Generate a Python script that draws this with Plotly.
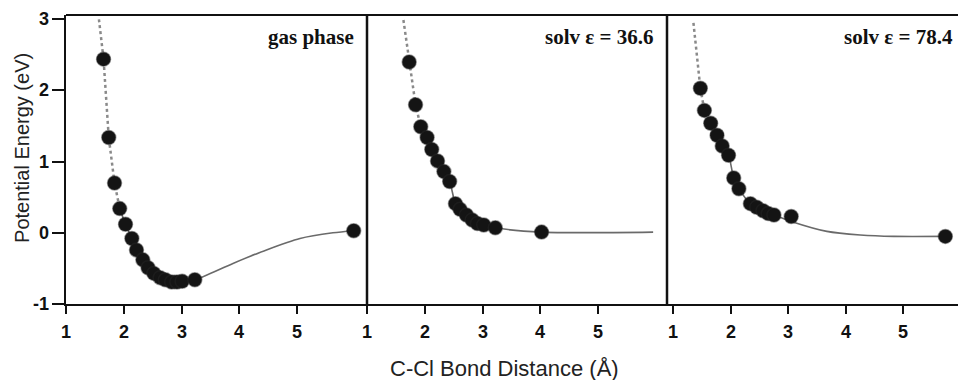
import plotly.graph_objects as go

# C-Cl bond scan: computed points (Å, eV)
gas_r = [1.65, 1.74, 1.84, 1.93, 2.03, 2.14, 2.22, 2.33, 2.42, 2.52, 2.63, 2.72, 2.83, 2.92, 3.01, 3.23, 5.98]
gas_e = [2.44, 1.34, 0.70, 0.34, 0.12, -0.08, -0.24, -0.38, -0.49, -0.57, -0.63, -0.66, -0.69, -0.69, -0.68, -0.66, 0.03]

s366_r = [1.73, 1.84, 1.93, 2.04, 2.12, 2.22, 2.33, 2.43, 2.53, 2.61, 2.72, 2.82, 2.91, 3.02, 3.22, 4.02]
s366_e = [2.40, 1.80, 1.49, 1.34, 1.17, 1.01, 0.86, 0.72, 0.41, 0.33, 0.25, 0.18, 0.13, 0.11, 0.07, 0.01]

s784_r = [1.47, 1.54, 1.65, 1.76, 1.85, 1.96, 2.05, 2.14, 2.34, 2.45, 2.56, 2.65, 2.75, 3.05, 5.73]
s784_e = [2.03, 1.72, 1.54, 1.37, 1.22, 1.09, 0.77, 0.62, 0.41, 0.36, 0.31, 0.27, 0.25, 0.23, -0.05]

# Guide curves: dotted repulsive wall and solid fitted curve
gas_wall_r = [1.57, 1.65, 1.74, 1.84, 1.93]
gas_wall_e = [3.00, 2.44, 1.34, 0.70, 0.34]
gas_fit_r = [1.93, 2.03, 2.14, 2.22, 2.33, 2.42, 2.52, 2.63, 2.72, 2.83, 2.92, 3.01, 3.23, 3.89, 4.47, 5.05, 5.62, 5.98]
gas_fit_e = [0.34, 0.12, -0.08, -0.24, -0.38, -0.49, -0.57, -0.63, -0.66, -0.69, -0.69, -0.68, -0.66, -0.43, -0.24, -0.08, 0.00, 0.03]

s366_wall_r = [1.63, 1.73, 1.84, 1.93]
s366_wall_e = [2.99, 2.40, 1.80, 1.49]
s366_fit_r = [1.93, 2.04, 2.12, 2.22, 2.33, 2.43, 2.53, 2.61, 2.72, 2.82, 2.91, 3.02, 3.22, 4.02, 5.95]
s366_fit_e = [1.49, 1.34, 1.17, 1.01, 0.86, 0.72, 0.41, 0.33, 0.25, 0.18, 0.13, 0.11, 0.07, 0.01, 0.01]

s784_wall_r = [1.35, 1.47, 1.54, 1.65]
s784_wall_e = [2.95, 2.03, 1.72, 1.54]
s784_fit_r = [1.65, 1.76, 1.85, 1.96, 2.05, 2.14, 2.34, 2.45, 2.56, 2.65, 2.75, 3.05, 3.67, 4.25, 4.83, 5.73]
s784_fit_e = [1.54, 1.37, 1.22, 1.09, 0.77, 0.62, 0.41, 0.36, 0.31, 0.27, 0.25, 0.16, 0.02, -0.03, -0.05, -0.05]

panel_labels = ["gas phase", "solv ε = 36.6", "solv ε = 78.4"]
x_ticks = [1, 2, 3, 4, 5]
y_ticks = [-1, 0, 1, 2, 3]

panels = [
    ("x", gas_r, gas_e, gas_wall_r, gas_wall_e, gas_fit_r, gas_fit_e),
    ("x2", s366_r, s366_e, s366_wall_r, s366_wall_e, s366_fit_r, s366_fit_e),
    ("x3", s784_r, s784_e, s784_wall_r, s784_wall_e, s784_fit_r, s784_fit_e),
]

fig = go.Figure()
for xa, r, e, wr, we, fr, fe in panels:
    fig.add_trace(go.Scatter(x=wr, y=we, xaxis=xa, yaxis="y", mode="lines",
                             line=dict(color="#8a8a8a", width=2.5, dash="dot"),
                             hoverinfo="skip", showlegend=False))
    fig.add_trace(go.Scatter(x=fr, y=fe, xaxis=xa, yaxis="y", mode="lines",
                             line=dict(color="#6a6a6a", width=1.6, shape="spline", smoothing=0.8),
                             hoverinfo="skip", showlegend=False))
    fig.add_trace(go.Scatter(x=r, y=e, xaxis=xa, yaxis="y", mode="markers",
                             marker=dict(size=14, color="#141414",
                                         line=dict(color="rgba(40,40,40,0.45)", width=1.5)),
                             showlegend=False))

d1 = 301 / 892
d2 = 601 / 892
xcommon = dict(tickmode="array", tickvals=x_ticks, showticklabels=False,
               ticks="outside", ticklen=8, tickwidth=2, tickcolor="#111",
               showline=True, linecolor="#111", linewidth=2, showgrid=False, zeroline=False,
               anchor="y")

fig.update_layout(
    width=958, height=380,
    margin=dict(l=66, r=0, t=15, b=76),
    font=dict(family="Liberation Sans", size=17, color="#111"),
    paper_bgcolor="white", plot_bgcolor="white",
    xaxis=dict(domain=[0, d1], range=[1, 6.21], **xcommon),
    xaxis2=dict(domain=[d1, d2], range=[1, 6.19], **xcommon),
    xaxis3=dict(domain=[d2, 1], range=[0.89, 5.95], **xcommon),
    yaxis=dict(range=[-1, 3.06], tickmode="array", tickvals=y_ticks, showticklabels=False,
               ticks="outside", ticklen=12, tickwidth=1.5,
               tickcolor="#111", showline=True, linecolor="#111", linewidth=2,
               showgrid=False, zeroline=False, anchor="x"),
    shapes=[
        dict(type="line", xref="paper", yref="paper", x0=0, x1=1, y0=1, y1=1,
             line=dict(color="#111", width=2)),
        dict(type="line", xref="paper", yref="paper", x0=d1, x1=d1, y0=0, y1=1,
             line=dict(color="#111", width=2.5)),
        dict(type="line", xref="paper", yref="paper", x0=d2, x1=d2, y0=0, y1=1,
             line=dict(color="#111", width=2.5)),
    ],
)

# Tick labels, bold sans
tick_font = dict(family="Liberation Sans", size=18, color="#111")
for xa in ["x", "x2", "x3"]:
    for v in x_ticks:
        fig.add_annotation(x=v, y=-0.097, xref=xa, yref="paper", text=f"<b>{v}</b>",
                           showarrow=False, xanchor="center", yanchor="middle", font=tick_font)
for v in y_ticks:
    fig.add_annotation(x=-0.0165, y=v, xref="paper", yref="y", text=f"<b>{v}</b>",
                       showarrow=False, xanchor="right", yanchor="middle", font=tick_font)

label_font = dict(family="Liberation Serif", size=21, color="#111")
for xr, txt in zip([(356 - 66) / 892, (655 - 66) / 892, (955 - 66) / 892], panel_labels):
    fig.add_annotation(x=xr, y=0.924, xref="paper", yref="paper", text=f"<b>{txt}</b>", showarrow=False,
                       xanchor="right", yanchor="middle", font=label_font)

fig.add_annotation(x=0.492, y=-0.2215, xref="paper", yref="paper", text="C-Cl Bond Distance (Å)",
                   showarrow=False, xanchor="center", yanchor="middle",
                   font=dict(family="Liberation Sans", size=22, color="#222"))
fig.add_annotation(x=-0.0493, y=0.54, xref="paper", yref="paper", text="Potential Energy (eV)",
                   showarrow=False, textangle=-90, xanchor="center", yanchor="middle",
                   font=dict(family="Liberation Sans", size=20, color="#222"))

fig.write_html("out.html")
